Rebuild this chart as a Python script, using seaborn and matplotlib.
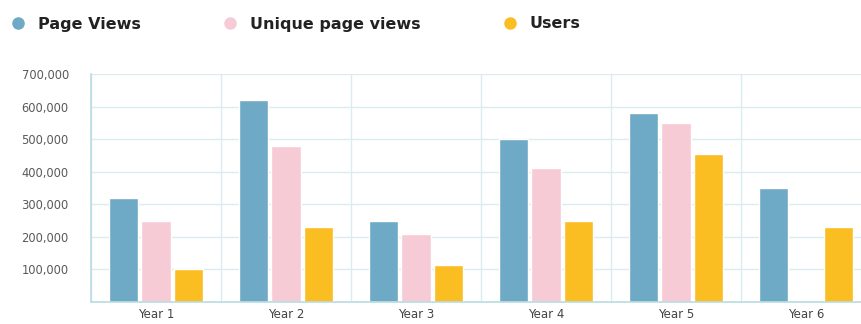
import matplotlib
matplotlib.use("Agg")
import matplotlib.pyplot as plt
from matplotlib.lines import Line2D
from matplotlib.ticker import FuncFormatter, MultipleLocator
import seaborn as sns
import pandas as pd
import numpy as np

years = ["Year 1", "Year 2", "Year 3", "Year 4", "Year 5", "Year 6"]
page_views = [320000, 620000, 250000, 500000, 580000, 350000]
unique_page_views = [250000, 480000, 210000, 410000, 550000, 0]
users = [100000, 230000, 115000, 250000, 455000, 230000]
series_names = ["Page Views", "Unique page views", "Users"]
colors = ["#6ea9c5", "#f7cbd6", "#fbbe22"]

df = pd.DataFrame({
    "year": years * 3,
    "value": page_views + unique_page_views + users,
    "series": [s for s in series_names for _ in years],
})

sns.set_theme(style="white")
plt.rcParams["font.family"] = ["DejaVu Sans"]

fig = plt.figure(figsize=(8.61, 3.24), dpi=100)
ax = fig.add_axes([91 / 861, 1 - 302 / 324, 780 / 861, 228 / 324])

sns.barplot(data=df, x="year", y="value", hue="series", palette=colors,
            width=0.75, gap=0.08, ax=ax, legend=False, saturation=1)

ax.set_ylim(0, 700000)
ax.set_xlim(-0.5, 5.5)
ax.yaxis.set_major_locator(MultipleLocator(100000))
ax.yaxis.set_major_formatter(FuncFormatter(lambda v, p: "" if v == 0 else f"{int(v):,}"))
ax.set_xticks(np.arange(-0.5, 6, 1.0), minor=True)
ax.set_axisbelow(True)
grid_c = "#d9ecee"
ax.grid(axis="y", which="major", color=grid_c, linewidth=1)
ax.grid(axis="x", which="minor", color=grid_c, linewidth=1)
ax.grid(axis="x", which="major", visible=False)
for s in ["top", "right"]:
    ax.spines[s].set_visible(False)
for s in ["left", "bottom"]:
    ax.spines[s].set_color("#b9dde2")
    ax.spines[s].set_linewidth(1.2)
ax.set_xlabel("")
ax.set_ylabel("")
ax.tick_params(axis="y", labelsize=8.3, labelcolor="#5a5a5a", length=0, pad=16)
ax.tick_params(axis="x", labelsize=8.5, labelcolor="#444444", length=0, pad=4)
ax.tick_params(which="minor", length=0)

handles = [Line2D([0], [0], marker="o", linestyle="", markersize=8,
                  markerfacecolor=c, markeredgecolor=c) for c in colors]
leg = fig.legend(handles, series_names, loc="center left", bbox_to_anchor=(0.0, 1 - 24 / 324),
                 ncol=3, frameon=False, fontsize=11.5, columnspacing=5.1,
                 handletextpad=0.76, handlelength=0.97, borderaxespad=0.24)
for t in leg.get_texts():
    t.set_fontweight("bold")
    t.set_color("#222222")

fig.savefig("out.png", dpi=100)
